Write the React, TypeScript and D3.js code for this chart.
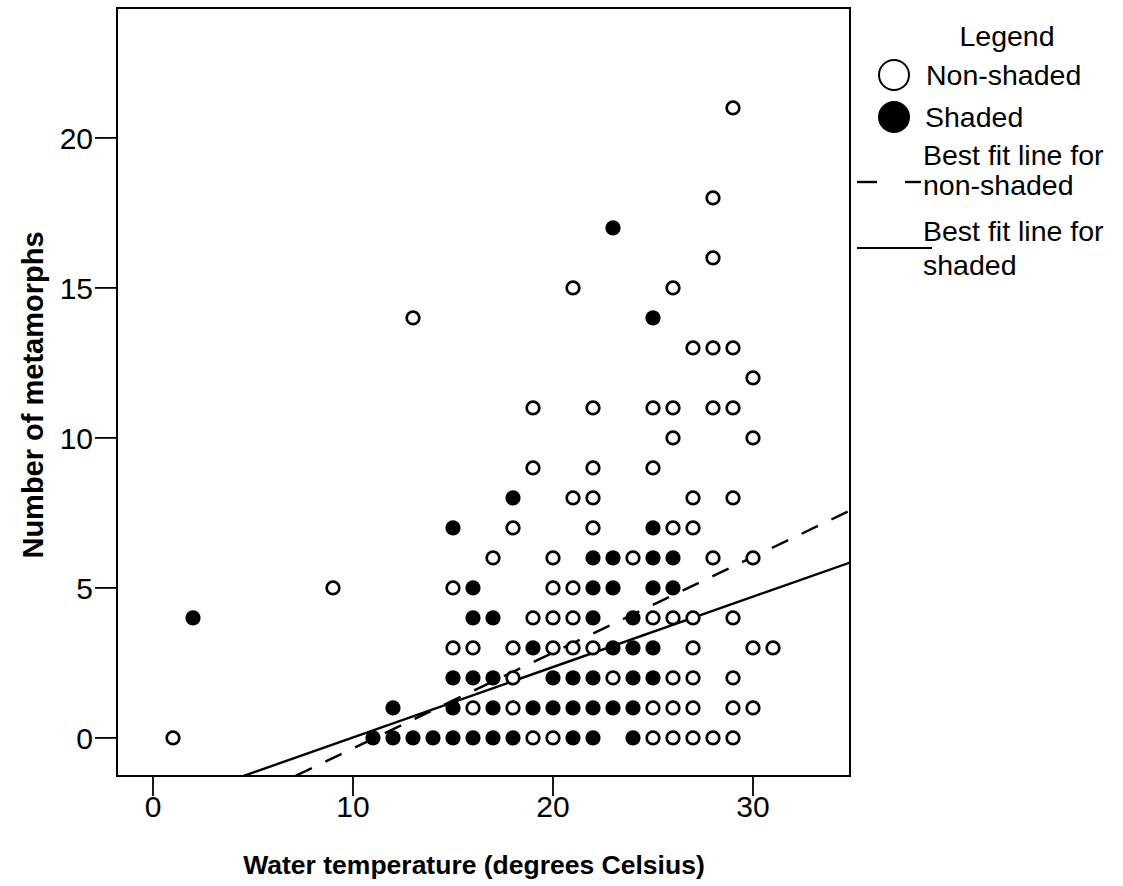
import React from "react";
import * as d3 from "d3";

// ---- data ----
const nonShadedX = [1, 9, 13,
  19, 20, 25, 26, 27, 28, 29,
  16, 18, 25, 26, 27, 29, 30,
  18, 23, 26, 27, 29,
  15, 16, 18, 20, 21, 22, 27, 30, 31,
  19, 20, 21, 25, 26, 27, 29,
  15, 20, 21,
  17, 20, 24, 28, 30,
  18, 22, 26, 27,
  21, 22, 27, 29,
  19, 22, 25,
  26, 30,
  19, 22, 25, 26, 28, 29,
  30,
  27, 28, 29,
  21, 26,
  28,
  28,
  29];
const nonShadedY = [0, 5, 14,
  0, 0, 0, 0, 0, 0, 0,
  1, 1, 1, 1, 1, 1, 1,
  2, 2, 2, 2, 2,
  3, 3, 3, 3, 3, 3, 3, 3, 3,
  4, 4, 4, 4, 4, 4, 4,
  5, 5, 5,
  6, 6, 6, 6, 6,
  7, 7, 7, 7,
  8, 8, 8, 8,
  9, 9, 9,
  10, 10,
  11, 11, 11, 11, 11, 11,
  12,
  13, 13, 13,
  15, 15,
  16,
  18,
  21];

const shadedX = [2,
  11, 12, 13, 14, 15, 16, 17, 18, 21, 22, 24,
  12, 15, 17, 19, 20, 21, 22, 23, 24,
  15, 16, 17, 20, 21, 22, 24, 25,
  19, 23, 24, 25,
  16, 17, 22, 24,
  16, 22, 23, 25, 26,
  22, 23, 25, 26,
  15, 25,
  18,
  25,
  23];
const shadedY = [4,
  0, 0, 0, 0, 0, 0, 0, 0, 0, 0, 0,
  1, 1, 1, 1, 1, 1, 1, 1, 1,
  2, 2, 2, 2, 2, 2, 2, 2,
  3, 3, 3, 3,
  4, 4, 4, 4,
  5, 5, 5, 5, 5,
  6, 6, 6, 6,
  7, 7,
  8,
  14,
  17];

// best fit lines: value = intercept + slope * temperature
const fitNonShaded = [-3.54, 0.319];
const fitShaded = [-2.33, 0.2346];

const xTicks = [0, 10, 20, 30];
const yTicks = [0, 5, 10, 15, 20];
const xDomain = [-1.8, 34.85];
const yDomain = [-1.27, 24.33];

const xTitle = "Water temperature (degrees Celsius)";
const yTitle = "Number of metamorphs";
const legendTitle = "Legend";
const legendLabels = ["Non-shaded", "Shaded", "Best fit line for", "non-shaded", "Best fit line for", "shaded"];

export default function App() {
  const W = 1123, H = 886;
  const left = 117, right = 850, top = 8, bottom = 776;
  const x = d3.scaleLinear().domain(xDomain).range([left, right]);
  const y = d3.scaleLinear().domain(yDomain).range([bottom, top]);
  const font = "'Liberation Sans', Arial, Helvetica, sans-serif";

  const fitPath = (fit: number[]) => {
    const l = d3.line<number>().x((t) => x(t)).y((t) => y(fit[0] + fit[1] * t));
    return l(xDomain) || "";
  };

  return (
    <svg width={W} height={H} style={{ position: "absolute", left: 0, top: 0, background: "#fff" }}
      fontFamily={font}>
      <defs>
        <clipPath id="plotClip">
          <rect x={left} y={top} width={right - left} height={bottom - top} />
        </clipPath>
      </defs>
      <rect x={0} y={0} width={W} height={H} fill="#fff" />

      {/* fit lines */}
      <g clipPath="url(#plotClip)">
        <path d={fitPath(fitNonShaded)} stroke="#000" strokeWidth={2.4} fill="none" strokeDasharray="18,15" />
        <path d={fitPath(fitShaded)} stroke="#000" strokeWidth={2.4} fill="none" />
      </g>

      {/* points */}
      <g>
        {nonShadedX.map((t, i) => (
          <circle key={"n" + i} cx={x(t)} cy={y(nonShadedY[i])} r={6.3} fill="#fff" stroke="#000" strokeWidth={2.7} />
        ))}
        {shadedX.map((t, i) => (
          <circle key={"s" + i} cx={x(t)} cy={y(shadedY[i])} r={7.6} fill="#000" />
        ))}
      </g>

      {/* frame */}
      <rect x={left} y={top} width={right - left} height={bottom - top} fill="none" stroke="#000" strokeWidth={2} />

      {/* y axis ticks */}
      {yTicks.map((v) => (
        <g key={"yt" + v}>
          <line x1={left - 22} x2={left} y1={y(v)} y2={y(v)} stroke="#000" strokeWidth={1.8} />
          <text x={left - 24} y={y(v)} dy="0.36em" textAnchor="end" fontSize={30}>{v}</text>
        </g>
      ))}
      {/* x axis ticks */}
      {xTicks.map((v) => (
        <g key={"xt" + v}>
          <line x1={x(v)} x2={x(v)} y1={bottom} y2={bottom + 20} stroke="#000" strokeWidth={1.8} />
          <text x={x(v)} y={bottom + 41} textAnchor="middle" fontSize={30}>{v}</text>
        </g>
      ))}

      {/* axis titles */}
      <text x={474} y={874} textAnchor="middle" fontSize={26.5} fontWeight="bold">{xTitle}</text>
      <text transform={`translate(43, 395) rotate(-90)`} textAnchor="middle" fontSize={29} fontWeight="bold">{yTitle}</text>

      {/* legend */}
      <g fontSize={28.5}>
        <text x={1007} y={46} textAnchor="middle">{legendTitle}</text>
        <circle cx={894} cy={75} r={15} fill="#fff" stroke="#000" strokeWidth={2} />
        <text x={926} y={85}>{legendLabels[0]}</text>
        <circle cx={894} cy={117} r={16} fill="#000" />
        <text x={925} y={127}>{legendLabels[1]}</text>
        <line x1={857} x2={877} y1={182} y2={182} stroke="#000" strokeWidth={2.4} />
        <line x1={905} x2={921} y1={182} y2={182} stroke="#000" strokeWidth={2.4} />
        <text x={923} y={165}>{legendLabels[2]}</text>
        <text x={923} y={195}>{legendLabels[3]}</text>
        <line x1={857} x2={932} y1={248} y2={248} stroke="#000" strokeWidth={2} />
        <text x={923} y={241}>{legendLabels[4]}</text>
        <text x={923} y={275}>{legendLabels[5]}</text>
      </g>
    </svg>
  );
}
